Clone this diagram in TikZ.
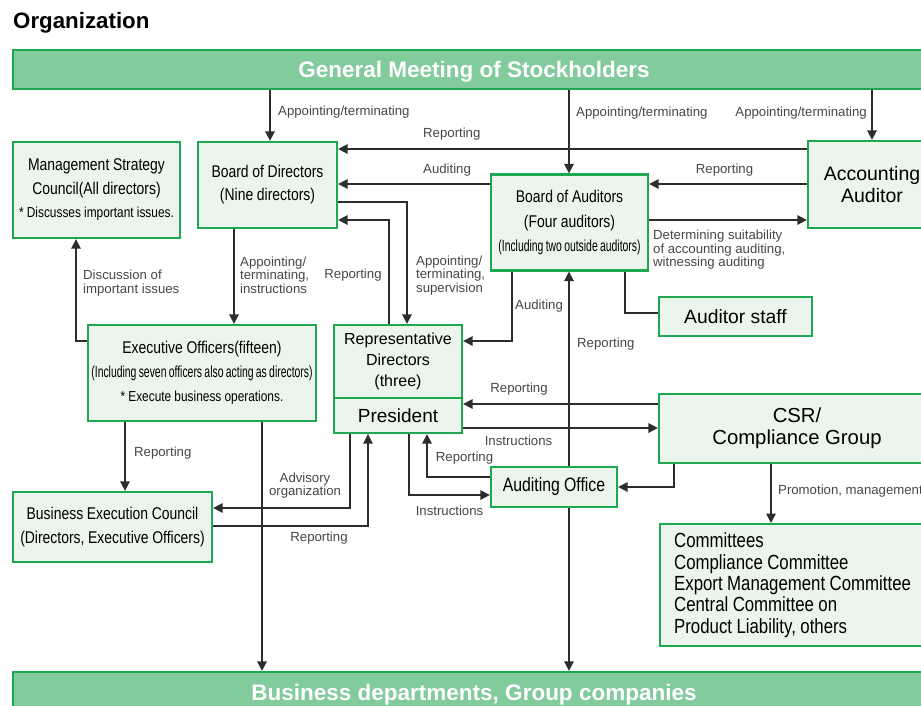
\documentclass[tikz,border=0pt]{standalone}
\usepackage{fontspec}
\setmainfont{Liberation Sans}
\newfontfamily\cnd[FakeStretch=0.82, WordSpace=0.95]{Liberation Sans}
\newfontfamily\tcnd[FakeStretch=0.65, WordSpace=0.8]{Liberation Sans}
\usetikzlibrary{arrows.meta}
\definecolor{barfill}{RGB}{130,203,156}
\definecolor{gborder}{RGB}{30,168,80}
\definecolor{boxfill}{RGB}{235,245,237}
\definecolor{arrcol}{RGB}{45,45,45}
\definecolor{labcol}{RGB}{70,70,70}
\newcommand\fs[2]{\fontsize{#1}{#2}\selectfont}
\begin{document}
\begin{tikzpicture}[x=1pt,y=-1pt,
  box/.style={draw=gborder, line width=2.3pt, fill=boxfill, inner sep=0pt, align=center, text=black},
  bar/.style={draw=gborder, line width=2.3pt, fill=barfill, inner sep=0pt, text depth=0pt, text=white, font=\bfseries\fs{22.5}{27}},
  arr/.style={draw=arrcol, line width=1.6pt, -{Triangle[length=9.5pt,width=9.5pt]}},
  conn/.style={draw=arrcol, line width=1.6pt},
  lab/.style={text=labcol, font=\fs{13.2}{13.5}, inner sep=0pt, align=left}]
\useasboundingbox (0,0) rectangle (921,705);

% title and bars
\node[anchor=west, inner sep=0pt, font=\bfseries\fs{22.3}{25}] (title) at (13,23) {Organization};
\node[bar, minimum width=922, minimum height=39] (gm) at (474,69.5) {General Meeting of Stockholders};
\node[bar, minimum width=922, minimum height=40] (bd) at (474,692) {Business departments, Group companies};

% boxes
\node[box, minimum width=167, minimum height=96, font=\cnd\fs{17}{23.5}] (msc) at (96.5,190)
  {Management Strategy\\Council(All directors)\\{\fs{14.5}{23.5}* Discusses important issues.}};
\node[box, minimum width=139, minimum height=86, font=\cnd\fs{17}{23}] (bod) at (267.5,185)
  {Board of Directors\\(Nine directors)};
\node[box, minimum width=157, minimum height=96, font=\cnd\fs{17}{24.5}] (boa) at (569.5,222.5)
  {Board of Auditors\\(Four auditors)\\{\tcnd\fs{16}{24.5}(Including two outside auditors)}};
\node[box, minimum width=128, minimum height=87, font=\fs{19.5}{21.5}] (acc) at (872,184.5)
  {Accounting\\Auditor};
\node[box, minimum width=153, minimum height=39, font=\fs{19.3}{22}] (staff) at (735.5,316.5)
  {Auditor staff};
\node[box, minimum width=228, minimum height=96, font=\cnd\fs{17}{24}] (exec) at (202,373)
  {Executive Officers(fifteen)\\{\tcnd\fs{16}{24}(Including seven officers also acting as directors)}\\{\fs{14.5}{24}* Execute business operations.}};
\node[box, minimum width=128, minimum height=73, font=\fs{16}{21}] (rep) at (398,361.5)
  {Representative\\Directors\\(three)};
\node[box, minimum width=128, minimum height=35, font=\fs{19}{22}] (pres) at (398,415.5)
  {President};
\node[box, minimum width=276, minimum height=69, font=\fs{20.3}{22}] (csr) at (797,428.5)
  {CSR/\\Compliance Group};
\node[box, minimum width=126, minimum height=40, font=\cnd\fs{19.3}{22}] (ao) at (554,487)
  {Auditing Office};
\node[box, minimum width=199, minimum height=70, font=\cnd\fs{17}{24}] (bec) at (112.5,527)
  {Business Execution Council\\(Directors, Executive Officers)};
\node[box, minimum height=122, text width=248, inner xsep=14pt, align=flush left, font=\cnd\fs{20.5}{21.3}, anchor=north west] (com) at (659,523)
  {Committees\\Compliance Committee\\Export Management Committee\\Central Committee on\\Product Liability, others};

% labels
\node[lab, anchor=west] (l1) at (278,112) {Appointing/terminating};
\node[lab, anchor=west] (l2) at (576,113) {Appointing/terminating};
\node[lab, anchor=east] (l3) at (867,113) {Appointing/terminating};
\node[lab, anchor=west] (l4) at (423,134) {Reporting};
\node[lab, anchor=west] (l5) at (423,170) {Auditing};
\node[lab] (l6) at (724.5,170) {Reporting};
\node[lab, anchor=west] (l7) at (653,250) {Determining suitability\\of accounting auditing,\\witnessing auditing};
\node[lab, anchor=west] (l8) at (416,275.5) {Appointing/\\terminating,\\supervision};
\node[lab] (l9) at (353,275) {Reporting};
\node[lab, anchor=west] (l10) at (240,275) {Appointing/\\terminating,\\instructions};
\node[lab, anchor=west] (l11) at (83,283) {Discussion of\\important issues};
\node[lab, anchor=west] (l12) at (515,306) {Auditing};
\node[lab, anchor=west] (l13) at (577,344) {Reporting};
\node[lab] (l14) at (519,389) {Reporting};
\node[lab] (l15) at (518.5,441) {Instructions};
\node[lab, anchor=west] (l16) at (778,491) {Promotion, management};
\node[lab] (l17) at (449.5,511) {Instructions};
\node[lab] (l18) at (464.5,458) {Reporting};
\node[lab, align=center] (l19) at (305,485.5) {Advisory\\organization};
\node[lab] (l20) at (319,538) {Reporting};
\node[lab, anchor=west] (l21) at (134,453) {Reporting};

% connectors
\draw[arr] (gm.south -| 270,0) -- (bod.north -| 270,0);
\draw[arr] (gm.south -| 569,0) -- (boa.north -| 569,0);
\draw[arr] (gm.south -| 872,0) -- (acc.north -| 872,0);
\draw[arr] (acc.west |- 0,149) -- (bod.east |- 0,149);
\draw[arr] (boa.west |- 0,184) -- (bod.east |- 0,184);
\draw[arr] (acc.west |- 0,184) -- (boa.east |- 0,184);
\draw[arr] (boa.east |- 0,220) -- (acc.west |- 0,220);
\draw[arr] (bod.east |- 0,202) -| (rep.north -| 407,0);
\draw[arr] (rep.north -| 389,0) |- (bod.east |- 0,220);
\draw[arr] (bod.south -| 234,0) -- (exec.north -| 234,0);
\draw[arr] (exec.west |- 0,341) -| (msc.south -| 76,0);
\draw[arr] (boa.south -| 512,0) |- (rep.east |- 0,341);
\draw[conn] (boa.south -| 625,0) |- (staff.west |- 0,313);
\draw[arr] (csr.west |- 0,404) -- (pres.east |- 0,404);
\draw[arr] (pres.east |- 0,428) -- (csr.west |- 0,428);
\draw[arr] (ao.north -| 569,0) -- (boa.south -| 569,0);
\draw[arr] (ao.south -| 569,0) -- (bd.north -| 569,0);
\draw[arr] (csr.south -| 674,0) |- (ao.east |- 0,487);
\draw[arr] (csr.south -| 771,0) -- (com.north -| 771,0);
\draw[arr] (pres.south -| 409,0) |- (ao.west |- 0,495);
\draw[arr] (ao.west |- 0,477) -| (pres.south -| 427,0);
\draw[arr] (pres.south -| 350,0) |- (bec.east |- 0,508);
\draw[arr] (bec.east |- 0,526) -| (pres.south -| 368,0);
\draw[arr] (exec.south -| 125,0) -- (bec.north -| 125,0);
\draw[arr] (exec.south -| 262,0) -- (bd.north -| 262,0);
\end{tikzpicture}
\end{document}
